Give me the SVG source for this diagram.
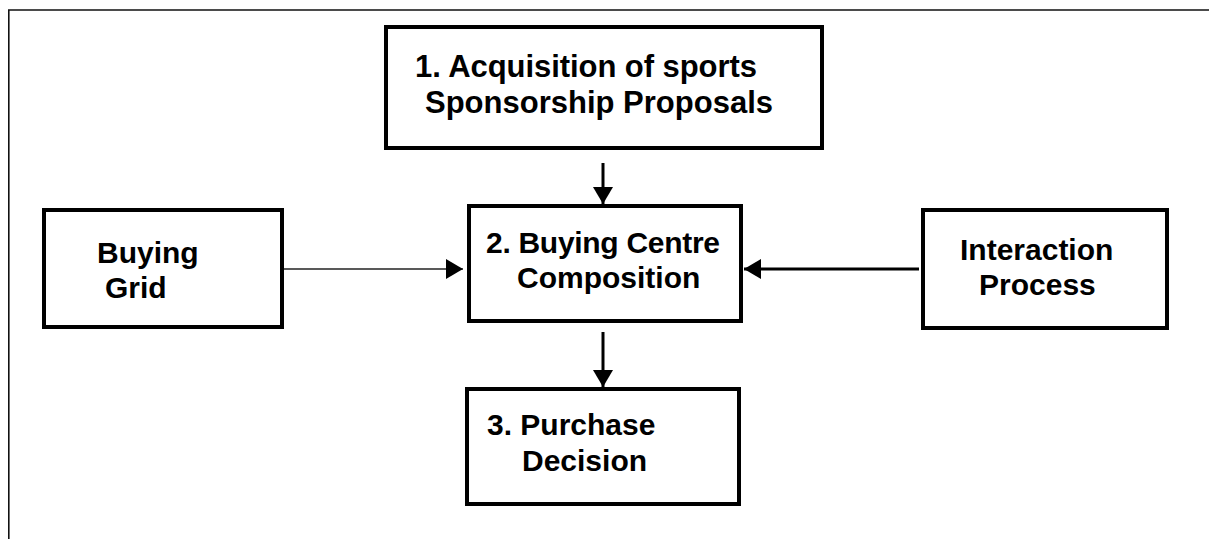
<svg xmlns="http://www.w3.org/2000/svg" width="1209" height="539" viewBox="0 0 1209 539">
  <style>
    .box { fill: #ffffff; stroke: #000000; stroke-width: 4; }
    .label { font-family: "Liberation Sans", Arial, sans-serif; font-weight: bold; font-size: 30px; fill: #000000; }
    .big { font-size: 31px; }
    .link { fill: none; stroke: #000000; stroke-width: 3; }
    .thin { stroke-width: 1.6; stroke: #222222; }
  </style>
  <defs>
    <marker id="head" viewBox="0 0 17 20" refX="17" refY="10" markerWidth="17" markerHeight="20" markerUnits="userSpaceOnUse" orient="auto">
      <path d="M0,0 L17,10 L0,20 z" fill="#000000"/>
    </marker>
  </defs>

  <rect width="1209" height="539" fill="#ffffff"/>

  <!-- page frame (open on the right and bottom) -->
  <path d="M8.8,539 V10 H1209" fill="none" stroke="#111111" stroke-width="1.6"/>

  <g id="node-acquisition">
    <rect class="box" x="386" y="27" width="436" height="121"/>
    <text class="label big" x="415" y="77" textLength="342">1. Acquisition of sports</text>
    <text class="label big" x="425" y="113" textLength="348">Sponsorship Proposals</text>
  </g>

  <g id="node-buying-grid">
    <rect class="box" x="44" y="210" width="238" height="117"/>
    <text class="label" x="97" y="263">Buying</text>
    <text class="label" x="105" y="298">Grid</text>
  </g>

  <g id="node-buying-centre">
    <rect class="box" x="469" y="206" width="272" height="115"/>
    <text class="label" x="486" y="253" textLength="234">2. Buying Centre</text>
    <text class="label" x="517" y="288">Composition</text>
  </g>

  <g id="node-interaction">
    <rect class="box" x="923" y="210" width="244" height="118"/>
    <text class="label" x="960" y="260">Interaction</text>
    <text class="label" x="979" y="295">Process</text>
  </g>

  <g id="node-purchase">
    <rect class="box" x="467" y="389" width="272" height="115"/>
    <text class="label" x="487" y="435">3. Purchase</text>
    <text class="label" x="522" y="471">Decision</text>
  </g>

  <g id="connectors">
    <path class="link" d="M603,163 V204" marker-end="url(#head)"/>
    <path class="link thin" d="M284,269 H463" marker-end="url(#head)"/>
    <path class="link" d="M919,269 H744" stroke-width="2.4" marker-end="url(#head)"/>
    <path class="link" d="M603,332 V387" marker-end="url(#head)"/>
  </g>
</svg>
